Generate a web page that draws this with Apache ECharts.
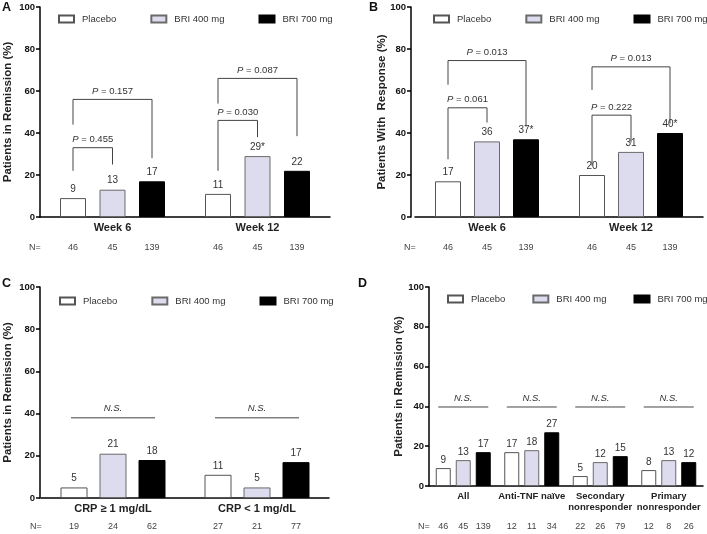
<!DOCTYPE html>
<html><head><meta charset="utf-8">
<script src="https://cdn.jsdelivr.net/npm/echarts/dist/echarts.min.js"></script>
<style>html,body{margin:0;padding:0;background:#fff}#c{width:707px;height:534px}</style>
</head><body><div id="c"></div>
<script>
// ---------- DATA ----------
const seriesNames = ['Placebo', 'BRI 400 mg', 'BRI 700 mg'];

// Panel A: Patients in remission
const catsA = ['Week 6', 'Week 12'];
const placeboA = [9, 11];
const bri400A = [13, 29];
const bri700A = [17, 22];
const sigA = [['', ''], ['', '*'], ['', '']];
const nPlaceboA = [46, 46];
const n400A = [45, 45];
const n700A = [139, 139];
// [category, topValue, fromBar, toBar, leftLegEnd, rightLegEnd]
const bracketsA = [[0, 33, 0, 1, 22, 25], [0, 56, 0, 2, 44, 28], [1, 46, 0, 1, 22, 38], [1, 66, 0, 2, 54, 38.5]];
const bracketTextA = ['0.455', '0.157', '0.030', '0.087'];

// Panel B: Patients with response
const catsB = ['Week 6', 'Week 12'];
const placeboB = [17, 20];
const bri400B = [36, 31];
const bri700B = [37, 40];
const sigB = [['', ''], ['', ''], ['*', '*']];
const nPlaceboB = [46, 46];
const n400B = [45, 45];
const n700B = [139, 139];
const bracketsB = [[0, 52, 0, 1, 27.5, 45], [0, 74.5, 0, 2, 63, 43], [1, 48.5, 0, 1, 24.5, 35.5], [1, 71.5, 0, 2, 60.5, 44.5]];
const bracketTextB = ['0.061', '0.013', '0.222', '0.013'];

// Panel C: by CRP
const catsC = ['CRP \u2265 1 mg/dL', 'CRP < 1 mg/dL'];
const placeboC = [5, 11];
const bri400C = [21, 5];
const bri700C = [18, 17];
const sigC = [['', ''], ['', ''], ['', '']];
const nPlaceboC = [19, 27];
const n400C = [24, 21];
const n700C = [62, 77];
const nsC = [38, 38];

// Panel D: by anti-TNF history
const catsD = ['All', 'Anti-TNF na\u00efve', 'Secondary\nnonresponder', 'Primary\nnonresponder'];
const placeboD = [9, 17, 5, 8];
const bri400D = [13, 18, 12, 13];
const bri700D = [17, 27, 15, 12];
const sigD = [['', '', '', ''], ['', '', '', ''], ['', '', '', '']];
const nPlaceboD = [46, 12, 22, 12];
const n400D = [45, 11, 26, 8];
const n700D = [139, 34, 79, 26];
const nsD = [39.7, 39.7, 39.7, 39.7];

// ---------- CHART ----------
const FONT = '"Liberation Sans", Arial, Helvetica, sans-serif';
const fills = ['#ffffff', '#dcdcee', '#000000'];
const borders = ['#555555', '#6a6a6a', '#000000'];

const panels = [
  {letter: 'A', lx: 2, ly: 1, cats: catsA, vals: [placeboA, bri400A, bri700A], sig: sigA, n: [nPlaceboA, n400A, n700A],
   brackets: bracketsA, btext: bracketTextA, ns: null,
   grid: {left: 40, top: 7, width: 290, height: 210}, yOffset: 0, yName: 'Patients in Remission (%)', nameGap: 26,
   barW: 26, gap: 13.5, nY: 31, catFont: 11, legend: [58, 14], legendGap: 34, labelDist: 4},
  {letter: 'B', lx: 369, ly: 1, cats: catsB, vals: [placeboB, bri400B, bri700B], sig: sigB, n: [nPlaceboB, n400B, n700B],
   brackets: bracketsB, btext: bracketTextB, ns: null,
   grid: {left: 415, top: 7, width: 288, height: 210}, yOffset: 4, yName: 'Patients With  Response (%)', nameGap: 23,
   barW: 26, gap: 13, nY: 31, catFont: 11, legend: [433, 14], legendGap: 34, labelDist: 4},
  {letter: 'C', lx: 2, ly: 277, cats: catsC, vals: [placeboC, bri400C, bri700C], sig: sigC, n: [nPlaceboC, n400C, n700C],
   brackets: null, ns: nsC, nsExt: 3,
   grid: {left: 41, top: 287, width: 288, height: 211}, yOffset: 1, yName: 'Patients in Remission (%)', nameGap: 26,
   barW: 27, gap: 12, nY: 29, catFont: 11, legend: [59, 296], legendGap: 34, labelDist: 4},
  {letter: 'D', lx: 358, ly: 277, cats: catsD, vals: [placeboD, bri400D, bri700D], sig: sigD, n: [nPlaceboD, n400D, n700D],
   brackets: null, ns: nsD, nsExt: 5,
   grid: {left: 429, top: 287, width: 274, height: 199}, yOffset: 0, yName: 'Patients in Remission (%)', nameGap: 24,
   barW: 15, gap: 5, nY: 41, catFont: 9.5, legend: [447, 294], legendGap: 27, labelDist: 3}
];

const option = {
  animation: false,
  textStyle: {fontFamily: FONT},
  grid: [], xAxis: [], yAxis: [], legend: [], series: [], graphic: []
};

panels.forEach((p, k) => {
  option.grid.push(Object.assign({containLabel: false}, p.grid));
  option.xAxis.push({
    type: 'category', gridIndex: k, data: p.cats,
    axisLine: {lineStyle: {color: '#000', width: 1.5}},
    axisTick: {alignWithLabel: true, length: 4, lineStyle: {color: '#000', width: 1.5}},
    axisLabel: {fontWeight: 'bold', fontSize: p.catFont, color: '#222', margin: 5, lineHeight: 11, interval: 0, fontFamily: FONT},
    splitLine: {show: false}
  });
  option.yAxis.push({
    type: 'value', gridIndex: k, min: 0, max: 100, interval: 20, offset: p.yOffset,
    name: p.yName, nameLocation: 'middle', nameGap: p.nameGap, nameMoveOverlap: false,
    nameTextStyle: {fontWeight: 'bold', fontSize: 11.5, color: '#222', fontFamily: FONT},
    axisLine: {show: true, lineStyle: {color: '#000', width: 1.5}},
    axisTick: {show: true, length: 4, lineStyle: {color: '#000', width: 1.5}},
    axisLabel: {fontWeight: 'bold', fontSize: 9.5, color: '#111', margin: 5, fontFamily: FONT},
    splitLine: {show: false}
  });
  option.legend.push({
    left: p.legend[0], top: p.legend[1], width: 400, orient: 'horizontal',
    icon: 'rect', itemWidth: 15, itemHeight: 7, itemGap: p.legendGap,
    data: seriesNames, selectedMode: false, padding: 0,
    textStyle: {fontSize: 9.5, color: '#333', fontFamily: FONT, padding: [0, 0, 0, 3]}
  });
  seriesNames.forEach((nm, s) => {
    option.series.push({
      type: 'bar', name: nm, xAxisIndex: k, yAxisIndex: k, data: p.vals[s],
      barWidth: p.barW, barGap: (p.gap / p.barW * 100) + '%',
      itemStyle: {color: fills[s], borderColor: borders[s], borderWidth: 1},
      label: {show: true, position: 'top', distance: p.labelDist, fontSize: 10, color: '#333', fontFamily: FONT,
        formatter: (d) => d.value + p.sig[s][d.dataIndex]}
    });
  });
  const step = p.barW + p.gap;
  // N row
  const nData = [];
  p.cats.forEach((c, ci) => { for (let s = 0; s < 3; s++) nData.push([ci, 0, s, p.n[s][ci]]); });
  option.series.push({
    type: 'custom', xAxisIndex: k, yAxisIndex: k, clip: false, silent: true, encode: {x: 0, y: 1},
    data: nData,
    renderItem: (params, api) => {
      const c = api.coord([api.value(0), 0]);
      const x = c[0] + (api.value(2) - 1) * step;
      const y = c[1] + p.nY;
      const kids = [{type: 'text', x: x, y: y, style: {text: String(api.value(3)), fontSize: 9, fill: '#444', fontFamily: FONT, align: 'center', verticalAlign: 'middle'}}];
      if (params.dataIndex === 0) {
        kids.push({type: 'text', x: params.coordSys.x - 5, y: y, style: {text: 'N=', fontSize: 9, fill: '#444', fontFamily: FONT, align: 'center', verticalAlign: 'middle'}});
      }
      return {type: 'group', children: kids};
    }
  });
  if (p.brackets) {
    option.series.push({
      type: 'custom', xAxisIndex: k, yAxisIndex: k, clip: false, silent: true, encode: {x: 0, y: 1},
      data: p.brackets,
      renderItem: (params, api) => {
        const b = p.brackets[params.dataIndex];
        const c = api.coord([b[0], 0]);
        const x1 = c[0] + (b[2] - 1) * step, x2 = c[0] + (b[3] - 1) * step;
        const yT = api.coord([b[0], b[1]])[1];
        const yL = api.coord([b[0], b[4]])[1];
        const yR = api.coord([b[0], b[5]])[1];
        return {type: 'group', children: [
          {type: 'polyline', shape: {points: [[x1, yL], [x1, yT], [x2, yT], [x2, yR]]}, style: {stroke: '#444', lineWidth: 1, fill: 'none'}},
          {type: 'text', x: (x1 + x2) / 2, y: yT - 3, style: {text: '{i|P} = ' + p.btext[params.dataIndex], fontSize: 9.5, fill: '#333', fontFamily: FONT,
            align: 'center', verticalAlign: 'bottom', rich: {i: {fontStyle: 'italic', fontSize: 9.5, fill: '#333', fontFamily: FONT}}}}
        ]};
      }
    });
  }
  if (p.ns) {
    option.series.push({
      type: 'custom', xAxisIndex: k, yAxisIndex: k, clip: false, silent: true, encode: {x: 0, y: 1},
      data: p.ns.map((v, i) => [i, v]),
      renderItem: (params, api) => {
        const c = api.coord([api.value(0), api.value(1)]);
        const x1 = c[0] - step - p.nsExt, x2 = c[0] + step + p.nsExt;
        return {type: 'group', children: [
          {type: 'line', shape: {x1: x1, y1: c[1], x2: x2, y2: c[1]}, style: {stroke: '#444', lineWidth: 1}},
          {type: 'text', x: c[0], y: c[1] - 4, style: {text: 'N.S.', fontSize: 9.5, fontStyle: 'italic', fill: '#333', fontFamily: FONT, align: 'center', verticalAlign: 'bottom'}}
        ]};
      }
    });
  }
  option.graphic.push({type: 'text', left: p.lx, top: p.ly, style: {text: p.letter, font: 'bold 12.5px ' + FONT, fill: '#111'}});
});

const chart = echarts.init(document.getElementById('c'));
chart.setOption(option);
</script>
</body></html>
